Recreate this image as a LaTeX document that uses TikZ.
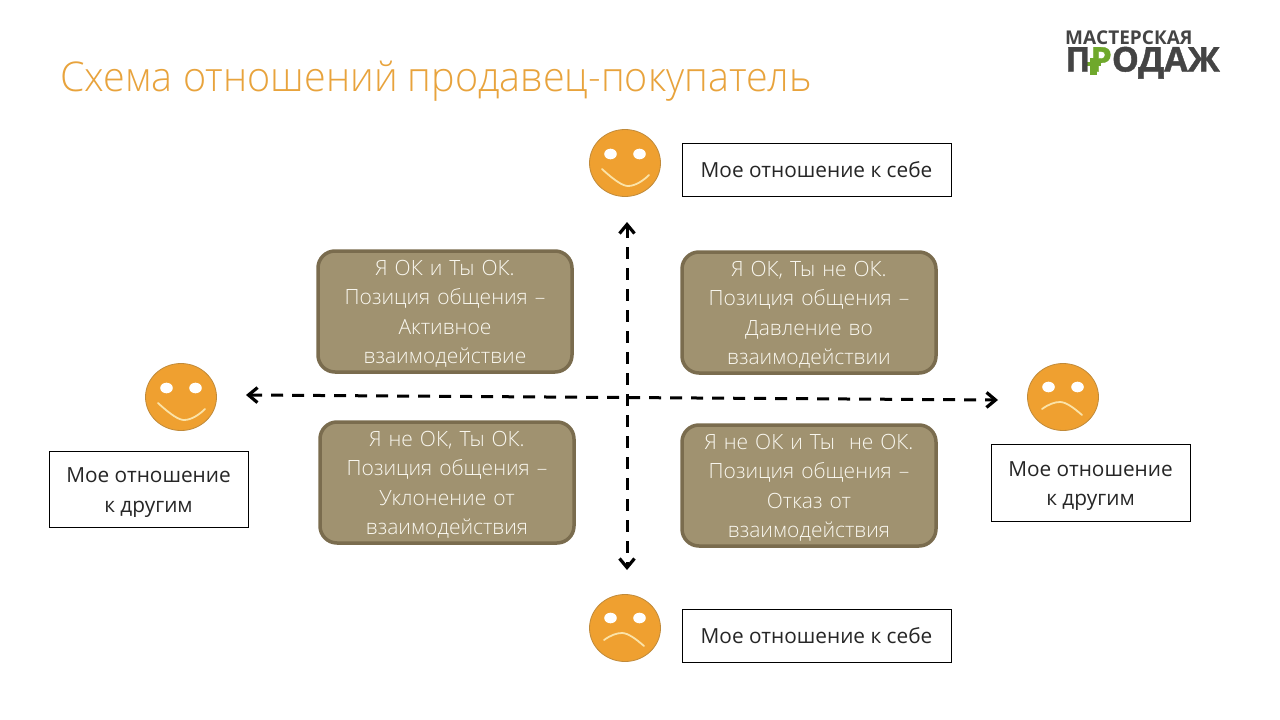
\documentclass[tikz,border=0pt]{standalone}
\usepackage{fontspec}
\setmainfont{Open Sans}
\newfontfamily\titlefont[FakeStretch=0.9635]{Open Sans Light}
\newfontfamily\boxfont{Open Sans Light}
\newfontfamily\logoheavy[FakeBold=1.2]{Open Sans Bold}
\usetikzlibrary{arrows.meta}
\definecolor{titleor}{HTML}{E8A33C}
\definecolor{faceor}{HTML}{EFA030}
\definecolor{faceedge}{HTML}{C08A3A}
\definecolor{faceyellow}{HTML}{FBE3A8}
\definecolor{boxfill}{HTML}{A09270}
\definecolor{boxedge}{HTML}{7A6C4E}
\definecolor{boxtxt}{HTML}{FAF8F0}
\definecolor{logodark}{HTML}{444444}
\definecolor{logogreen}{HTML}{6FA82C}
\tikzset{
 x=1pt,y=-1pt,
 qbox/.style={draw=boxedge,line width=3.5pt,fill=boxfill,rounded corners=17pt,minimum width=254pt,minimum height=121pt,anchor=center,inner sep=0pt,text=boxtxt,align=center,text width=240pt,font=\boxfont\fontsize{21}{29.4}\selectfont,execute at begin node={\rule{0pt}{20pt}}},
 lbox/.style={draw=black,line width=1pt,fill=white,anchor=center,inner sep=0pt,text=black!85,align=center,font=\fontsize{20.8}{29.3}\selectfont},
 eye/.style={fill=white,draw=none},
 mouth/.style={draw=faceyellow,line width=1.8pt,line cap=round},
 axis/.style={draw=black,line width=3pt,dash pattern=on 12pt off 9pt,{Straight Barb[length=9pt,width=15pt,line width=3.2pt]}-{Straight Barb[length=9pt,width=15pt,line width=3.2pt]}},
}
\newcommand{\happyface}[2]{\begin{scope}[shift={(#1,#2)}]
 \fill[faceor,draw=faceedge,line width=.8pt] (0,0) ellipse [x radius=35.5,y radius=33.5];
 \fill[eye] (-14.5,-9) ellipse [x radius=6.3,y radius=5.3];
 \fill[eye] (14.5,-9) ellipse [x radius=6.3,y radius=5.3];
 \draw[mouth] (-23,6) .. controls (-10,18) and (-2,23) .. (3,23) .. controls (10,23) and (18,18) .. (24,12);
\end{scope}}
\newcommand{\sadface}[2]{\begin{scope}[shift={(#1,#2)}]
 \fill[faceor,draw=faceedge,line width=.8pt] (0,0) ellipse [x radius=35.5,y radius=33.5];
 \fill[eye] (-14.5,-10) ellipse [x radius=6.3,y radius=5.3];
 \fill[eye] (14.5,-10) ellipse [x radius=6.3,y radius=5.3];
 \draw[mouth] (-21,12) .. controls (-14,7) and (-8,5) .. (-3,5) .. controls (3,5) and (11,11) .. (19,18);
\end{scope}}
\begin{document}
\begin{tikzpicture}
\useasboundingbox (0,0) rectangle (1280,720);
\fill[white] (0,0) rectangle (1280,720);
\node[anchor=west,inner sep=0pt,text=titleor,font=\titlefont\fontsize{41}{46}\selectfont] (title) at (60,81) {Схема отношений продавец-покупатель};
% logo
\node[anchor=base west,inner sep=0pt,text=logodark,font=\fontsize{19}{20}\selectfont\bfseries] (logoa) at (1065,44) {МАСТЕРСКАЯ};
\fill[logogreen] (1090,58) rectangle (1097,75);
\fill[logogreen] (1086,62) rectangle (1101,66);
\node[anchor=base west,inner sep=0pt,text=logodark,font=\logoheavy\fontsize{34}{34}\selectfont] (logob) at (1065,71.5) {П\textcolor{logogreen}{Р}ОДАЖ};
% faces
\happyface{625}{163}
\sadface{625}{628}
\happyface{181}{397}
\sadface{1063}{397}
% arrows
\coordinate (vtop) at (627,222);
\coordinate (vbot) at (627,570);
\coordinate (hleft) at (246,395);
\coordinate (hright) at (998,400);
\draw[axis] (vtop) -- (vbot);
\draw[axis] (hleft) -- (hright);
% quadrant boxes
\node[qbox] (q1) at (445,311.5) {Я ОК и Ты ОК.\\Позиция общения –\\Активное\\взаимодействие};
\node[qbox] (q2) at (809,312.5) {Я ОК, Ты не ОК.\\Позиция общения –\\Давление во\\взаимодействии};
\node[qbox] (q3) at (447,482.5) {Я не ОК, Ты ОК.\\Позиция общения –\\Уклонение от\\взаимодействия};
\node[qbox] (q4) at (809,485.5) {Я не ОК и Ты \ не ОК.\\Позиция общения –\\Отказ от\\взаимодействия};
% label boxes
\node[lbox,minimum width=269pt,minimum height=53pt] (l1) at (816.5,169.5) {Мое отношение к себе};
\node[lbox,minimum width=269pt,minimum height=53pt] (l2) at (816.5,635.5) {Мое отношение к себе};
\node[lbox,minimum width=199pt,minimum height=76pt] (l3) at (148.5,489) {\rule{0pt}{22pt}Мое отношение\\к другим};
\node[lbox,minimum width=199pt,minimum height=77pt] (l4) at (1090.5,482.5) {\rule{0pt}{22pt}Мое отношение\\к другим};
\end{tikzpicture}
\end{document}
